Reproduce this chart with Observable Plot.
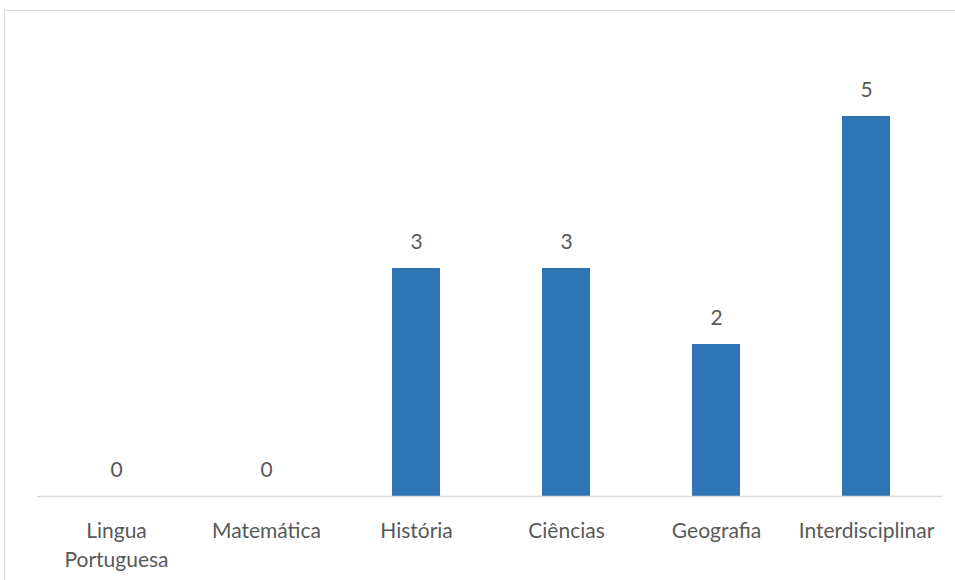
<!DOCTYPE html>
<html>
<head>
<meta charset="utf-8">
<script src="https://cdn.jsdelivr.net/npm/d3@7"></script>
<script src="https://cdn.jsdelivr.net/npm/@observablehq/plot@0.6"></script>
<style>
  html, body { margin: 0; padding: 0; background: #fff; }
  #frame { position: absolute; left: 4px; top: 10px; width: 980px; height: 600px; border: 1.5px solid #d9d9d9; box-sizing: border-box; }
  #chart { position: absolute; left: 0; top: 0; }
</style>
</head>
<body>
<div id="frame"></div>
<div id="chart"></div>
<script>
const categories = ["Lingua\nPortuguesa", "Matemática", "História", "Ciências", "Geografia", "Interdisciplinar"];
const values = [0, 0, 3, 3, 2, 5];

const data = categories.map((c, i) => ({ category: c, value: values[i] }));

const font = "Lato, 'Open Sans', sans-serif";

const chart = Plot.plot({
  width: 955,
  height: 580,
  marginTop: 40,
  marginBottom: 84,
  marginLeft: 39,
  marginRight: 13,
  style: { fontFamily: font, background: "transparent" },
  x: { domain: categories, paddingInner: 0.68, paddingOuter: 0.34, axis: null },
  y: { domain: [0, 6], axis: null },
  marks: [
    Plot.barY(data, { x: "category", y: "value", fill: "#2e75b6" }),
    Plot.ruleY([0], { stroke: "#d9d9d9", strokeWidth: 1.5, insetLeft: -2 }),
    Plot.text(data, { x: "category", y: "value", text: d => String(d.value), dy: -26, fill: "#595959", fontSize: 21 }),
    Plot.text(data, { x: "category", y: () => 0, text: "category", dy: 20, lineAnchor: "top", lineHeight: 1.42, fill: "#595959", fontSize: 21 })
  ]
});
document.getElementById("chart").appendChild(chart);
</script>
</body>
</html>
